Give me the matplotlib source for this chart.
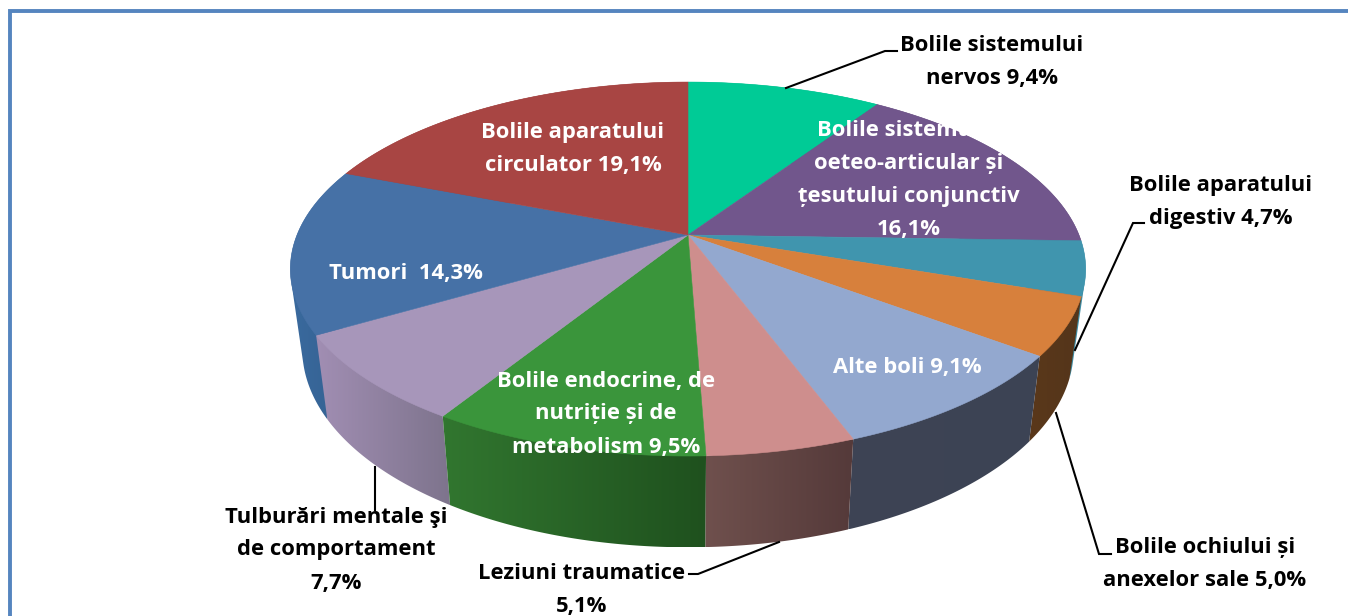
import numpy as np
import matplotlib
matplotlib.use('Agg')
import matplotlib.pyplot as plt
from matplotlib.colors import LinearSegmentedColormap
from matplotlib.patches import Polygon, Rectangle

plt.rcParams['font.family'] = ['Open Sans', 'DejaVu Sans']

# slices, clockwise from the top of the pie
names = ['Nervos', 'Osteo', 'Digestiv', 'Ochi', 'Alte', 'Leziuni', 'Endocrine', 'Mentale', 'Tumori', 'Circulator']
values = [9.4, 16.1, 4.7, 5.0, 9.1, 5.1, 9.5, 7.7, 14.3, 19.1]
top_colors = ['#00CB96', '#71568C', '#4095AE', '#D7803C', '#93A8CF', '#CE8E8D', '#3A953B', '#A796BA', '#4671A6', '#A84543']
wall_left = ['#00A078', '#5A4570', '#3F8CA3', '#5A381A', '#3E4454', '#6F504D', '#31762F', '#A18EB3', '#3A6A9E', '#85383A']
wall_right = ['#00A078', '#5A4570', '#3F8CA3', '#54351A', '#3C4354', '#553A3A', '#1F511E', '#7E748D', '#335F8F', '#85383A']

# perspective of the disc
cx, cy = 688, 235
rx, ry, tilt = 391, 180.8, 0.182
low_x, low_y, low_shift = 0.97, 1.06, 78


def rim(a0, a1, bottom=False):
    t = np.radians(np.linspace(a0, a1, 80))
    d = 1 + tilt * np.cos(t)
    x = rx * np.sin(t) / d
    y = -ry * np.cos(t) / d
    if bottom:
        x = x * low_x
        y = y * low_y + low_shift
    return cx + x, cy + y


def hull(pts):
    pts = sorted(map(tuple, pts))
    out = []
    for seq in (pts, pts[::-1]):
        start = len(out)
        for p in seq:
            while len(out) - start >= 2:
                a, b = out[-2], out[-1]
                if (b[0] - a[0]) * (p[1] - a[1]) - (b[1] - a[1]) * (p[0] - a[0]) > 0:
                    break
                out.pop()
            out.append(p)
        out.pop()
    return np.array(out)


fig = plt.figure(figsize=(13.48, 6.16), dpi=100)
ax = fig.add_axes([0, 0, 1, 1])

edges = np.concatenate([[0], np.cumsum(values)]) / np.sum(values) * 360

# frame, only the top and left sides are in the picture
ax.add_patch(Rectangle((10, 10.5), 1400, 700, fc='white', ec='#5585BF', lw=2.8, zorder=0))

# walls, back to front
order = sorted(range(len(values)), key=lambda i: np.mean(rim(edges[i], edges[i + 1])[1]))
for i in order:
    x0, y0 = rim(edges[i], edges[i + 1])
    x1, y1 = rim(edges[i], edges[i + 1], bottom=True)
    pts = hull(np.vstack([np.column_stack([x0, y0]), np.column_stack([x1, y1])]))
    clip = Polygon(pts, closed=True, fc='none', ec='none', transform=ax.transData)
    ax.add_patch(clip)
    cmap = LinearSegmentedColormap.from_list(names[i], [wall_left[i], wall_right[i]])
    im = ax.imshow(np.linspace(0, 1, 64).reshape(1, -1), cmap=cmap, aspect='auto',
                   extent=[pts[:, 0].min(), pts[:, 0].max(), pts[:, 1].max(), pts[:, 1].min()],
                   zorder=2 + order.index(i) * 0.01, interpolation='bilinear')
    im.set_clip_path(clip)

# top of the pie
for i in range(len(values)):
    x0, y0 = rim(edges[i], edges[i + 1])
    ax.fill(np.r_[cx, x0], np.r_[cy, y0], fc=top_colors[i], ec=top_colors[i], lw=0.4, zorder=3)

# leader lines
line_kw = dict(color='black', lw=1.5, zorder=4, solid_joinstyle='miter')
ax.plot([786, 885, 897], [88, 51, 51], **line_kw)
ax.plot([1075, 1133, 1144], [350, 223, 223], **line_kw)
ax.plot([1056, 1099, 1111], [413, 554, 554], **line_kw)
ax.plot([779, 698, 689], [542, 574, 574], **line_kw)
ax.plot([375, 375], [467, 510], **line_kw)

# labels
fs = 15.8
ls = 1.75
text_kw = dict(fontsize=fs, fontweight='bold', ha='center', va='center', linespacing=ls, zorder=5)
ax.text(992, 62, 'Bolile sistemului\nnervos 9,4%', color='black', **text_kw)
ax.text(573, 149, 'Bolile aparatului\ncirculator 19,1%', color='white', **text_kw)
ax.text(909, 180, 'Bolile sistemului\noeteo-articular și\nțesutului conjunctiv\n16,1%', color='white', **text_kw)
ax.text(1221, 202, 'Bolile aparatului\ndigestiv 4,7%', color='black', **text_kw)
ax.text(406, 273, 'Tumori  14,3%', color='white', **text_kw)
ax.text(907, 367, 'Alte boli 9,1%', color='white', **text_kw)
ax.text(606, 414, 'Bolile endocrine, de\nnutriție și de\nmetabolism 9,5%', color='white', **text_kw)
ax.text(336, 550, 'Tulburări mentale şi\nde comportament\n7,7%', color='black', **text_kw)
ax.text(582, 590, 'Leziuni traumatice\n5,1%', color='black', **text_kw)
ax.text(1205, 564, 'Bolile ochiului și\nanexelor sale 5,0%', color='black', **text_kw)

ax.set_xlim(0, 1348)
ax.set_ylim(616, 0)
ax.axis('off')

fig.savefig('out.png', dpi=100, facecolor='white')
